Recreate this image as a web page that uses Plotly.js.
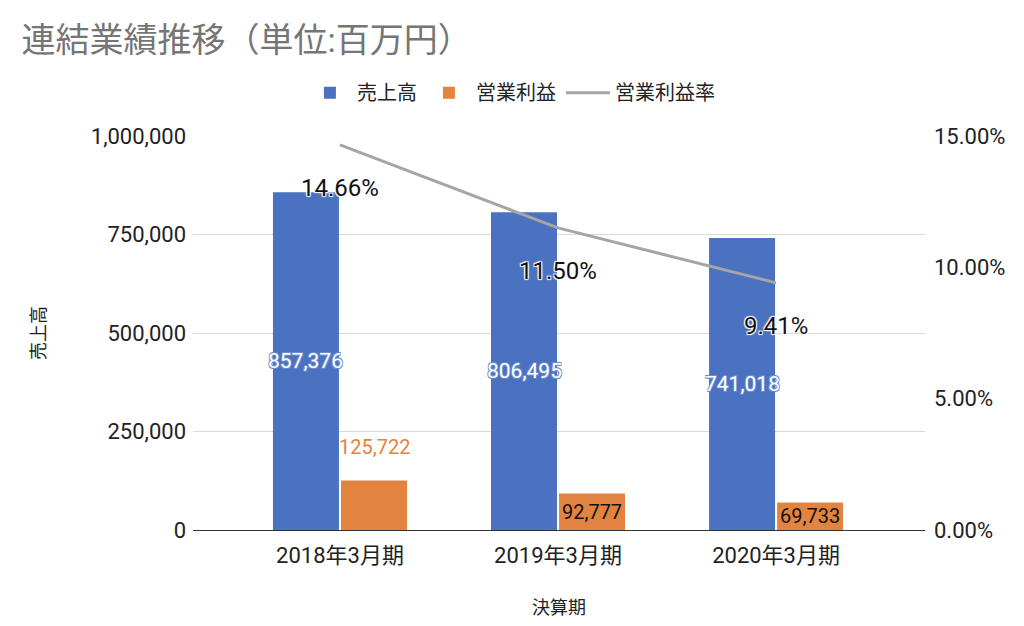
<!DOCTYPE html>
<html>
<head>
<meta charset="utf-8">
<script src="https://cdn.plot.ly/plotly-3.0.1.min.js"></script>
<style>html,body{margin:0;padding:0;background:#fff;}#chart{width:1024px;height:626px;}</style>
</head>
<body>
<div id="chart"></div>
<script>
const categories = ['2018年3月期', '2019年3月期', '2020年3月期'];
const sales = [857376, 806495, 741018];
const opProfit = [125722, 92777, 69733];
const opMargin = [0.1466, 0.1150, 0.0941];
const seriesNames = ['売上高', '営業利益', '営業利益率'];

const FONT = "Roboto, 'Noto Sans CJK JP', 'Noto Sans', sans-serif";
const fmt = v => v.toLocaleString('en-US');
const halo = (c, d, b) => `${d}px ${d}px ${b}px ${c}, -${d}px -${d}px ${b}px ${c}, ${d}px -${d}px ${b}px ${c}, -${d}px ${d}px ${b}px ${c}`;

const traces = [
  {
    type: 'bar', name: seriesNames[0], x: categories, y: sales,
    marker: {color: '#4a72c0'},
    hoverinfo: 'skip'
  },
  {
    type: 'bar', name: seriesNames[1], x: categories, y: opProfit,
    marker: {color: '#e2833f'},
    text: opProfit.map((v, i) => i === 0 ? '' : fmt(v)),
    textposition: 'inside', insidetextanchor: 'middle',
    textangle: 0, constraintext: 'none',
    textfont: {color: '#111111', size: 20, family: FONT},
    hoverinfo: 'skip'
  },
  {
    type: 'scatter', mode: 'lines', name: seriesNames[2], x: categories, y: opMargin,
    yaxis: 'y2', line: {color: '#a5a5a5', width: 3},
    hoverinfo: 'skip'
  }
];

const annotations = [];
sales.forEach((v, i) => {
  annotations.push({
    x: categories[i], y: v / 2, xref: 'x', yref: 'y', text: fmt(v),
    showarrow: false, xshift: -34,
    font: {size: 21, color: '#ffffff', family: FONT, shadow: halo('#6a8bcc', 0.8, 0.5)}
  });
});
opMargin.forEach((v, i) => {
  annotations.push({
    x: categories[i], y: v, xref: 'x', yref: 'y2', text: (v * 100).toFixed(2) + '%',
    showarrow: false, yshift: -43,
    font: {size: 24, color: '#111111', family: FONT, shadow: halo('#ffffff', 1, 1)}
  });
});
annotations.push({
  x: categories[0], y: opProfit[0], xref: 'x', yref: 'y', text: fmt(opProfit[0]),
  showarrow: false, xshift: 35, yshift: 33,
  font: {size: 20, color: '#e2833f', family: FONT}
});

const layout = {
  width: 1024, height: 626,
  paper_bgcolor: '#ffffff', plot_bgcolor: '#ffffff',
  margin: {l: 193, r: 99, t: 136, b: 96},
  font: {family: FONT, color: '#222222', size: 20},
  title: {text: '連結業績推移（単位:百万円）', x: 0.021, xanchor: 'left', y: 0.936, yanchor: 'middle',
          font: {size: 34, color: '#757575', family: FONT}},
  barmode: 'group', bargap: 0.376, bargroupgap: 0.03,
  showlegend: true,
  legend: {orientation: 'h', x: 0.435, xanchor: 'center', y: 1.11, yanchor: 'middle',
           font: {size: 20, color: '#222222'}, itemwidth: 44},
  xaxis: {type: 'category', range: [-0.674, 2.683], showgrid: false,
          showline: true, linecolor: '#333333', linewidth: 1, ticks: '',
          ticklabelstandoff: 6,
          tickfont: {size: 22, color: '#222222'},
          title: {text: '決算期', font: {size: 18, color: '#222222'}, standoff: 33}},
  yaxis: {range: [0, 1000000], dtick: 250000, tickformat: ',', gridcolor: '#d9d9d9', gridwidth: 1,
          zeroline: false, showline: false, ticks: '', ticklabelstandoff: 6,
          tickfont: {size: 22, color: '#222222'},
          title: {text: '売上高', font: {size: 18, color: '#222222'}, standoff: 40}},
  yaxis2: {overlaying: 'y', side: 'right', range: [0, 0.15], dtick: 0.05, tickformat: '.2%',
           showgrid: false, zeroline: false, showline: false, ticklabelstandoff: 8,
           tickfont: {size: 22, color: '#222222'}},
  annotations: annotations
};

Plotly.newPlot('chart', traces, layout, {displayModeBar: false, staticPlot: true});
</script>
</body>
</html>
